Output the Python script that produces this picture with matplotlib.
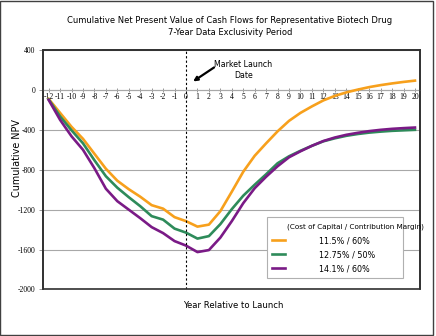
import matplotlib
matplotlib.use("Agg")
import matplotlib.pyplot as plt
from matplotlib.patches import Rectangle

# data
years = list(range(-12, 21))
npv_115_60 = [-90, -230, -370, -490, -640, -790, -910, -995, -1070, -1155, -1190, -1275,
              -1315, -1370, -1350, -1215, -1020, -820, -660, -535, -415, -310, -230,
              -165, -105, -60, -25, 3, 28, 48, 65, 80, 93]
npv_1275_50 = [-95, -265, -405, -535, -705, -865, -980, -1075, -1165, -1265, -1300, -1390,
               -1430, -1490, -1465, -1345, -1195, -1060, -950, -845, -735, -665, -610,
               -560, -515, -485, -460, -442, -428, -418, -410, -405, -400]
npv_141_60 = [-100, -300, -465, -600, -785, -990, -1115, -1200, -1285, -1375, -1435, -1515,
              -1560, -1625, -1605, -1480, -1315, -1135, -985, -870, -765, -675, -615,
              -560, -512, -477, -450, -430, -413, -400, -390, -383, -377]
series_labels = ["11.5% / 60%", "12.75% / 50%", "14.1% / 60%"]
series_colors = ["#F7A01C", "#2E8B5A", "#7A1A86"]
y_ticks = [400, 0, -400, -800, -1200, -1600, -2000]
legend_title = "(Cost of Capital / Contribution Margin)"

sans = "DejaVu Sans"
serif = "Liberation Serif"

fig = plt.figure(figsize=(4.36, 3.36), dpi=100)
ax = fig.add_axes([0.0979, 0.1384, 0.8654, 0.7128])

for vals, lab, col in zip([npv_115_60, npv_1275_50, npv_141_60], series_labels, series_colors):
    ax.plot(years, vals, color=col, lw=1.9, label=lab, zorder=3)

ax.set_xlim(-12.52, 20.44)
ax.set_ylim(-2000, 400)

# horizontal grid
for yv in y_ticks:
    ax.axhline(yv, color="#A8A8A8", lw=0.8, zorder=1)

# x axis sits on the zero line
ax.spines["bottom"].set_position(("data", 0))
ax.spines["bottom"].set_color("#A8A8A8")
ax.spines["bottom"].set_linewidth(0.8)
for s in ["top", "left", "right"]:
    ax.spines[s].set_color("#303030")
    ax.spines[s].set_linewidth(1.2)
ax.add_patch(Rectangle((0, 0), 1, 1, transform=ax.transAxes, fill=False,
                       edgecolor="#303030", lw=1.2, clip_on=False, zorder=5))

ax.set_xticks(years)
ax.set_xticklabels([str(y) for y in years], fontfamily=serif, fontsize=5.5)
ax.tick_params(axis="x", direction="inout", length=3, width=0.6, color="#888888", pad=1)
ax.set_yticks(y_ticks)
ax.set_yticklabels([str(y) for y in y_ticks], fontfamily=serif, fontsize=5.5)
ax.tick_params(axis="y", direction="out", length=3, width=0.6, color="#888888", pad=2)

# launch marker
ax.axvline(0, color="black", lw=0.8, ls=(0, (2, 2)), zorder=4)
ax.annotate("", xy=(0.62, 85), xytext=(2.45, 225),
            arrowprops=dict(arrowstyle="-|>", color="black", lw=1.6,
                            mutation_scale=6, shrinkA=0, shrinkB=0))
ax.text(5.0, 200, "Market Launch\nDate", ha="center", va="center",
        fontfamily=sans, fontsize=5.7, linespacing=1.35)

# legend: blank title row, real title drawn as text so it can spill to the right like Excel
leg = ax.legend(loc="lower left", bbox_to_anchor=(0.595, 0.048, 0.361, 0.25), mode="expand",
                title=" ", prop={"family": sans, "size": 5.8},
                handlelength=1.6, handletextpad=4.2, labelspacing=0.62,
                borderpad=0.6, borderaxespad=0, fancybox=False, framealpha=1,
                edgecolor="#B0B0B0")
leg.get_title().set_fontsize(5.8)
leg.get_frame().set_linewidth(0.8)
leg.set_zorder(6)
ax.text(0.6475, 0.263, legend_title, transform=ax.transAxes, ha="left", va="center",
        fontfamily=sans, fontsize=5.2, zorder=7)

fig.text(0.527, 0.921, "Cumulative Net Present Value of Cash Flows for Representative Biotech Drug\n"
         "7-Year Data Exclusivity Period", ha="center", va="center",
         fontfamily=sans, fontsize=6.0, linespacing=1.35)
fig.text(0.534, 0.09, "Year Relative to Launch", ha="center", va="center",
         fontfamily=sans, fontsize=6.1)
fig.text(0.039, 0.53, "Cumulative NPV", ha="center", va="center", rotation=90,
         fontfamily=sans, fontsize=6.9)

# outer border
fig.patches.append(Rectangle((0.001, 0.004), 0.991, 0.994, transform=fig.transFigure,
                             fill=False, edgecolor="#404040", lw=1.0))

fig.savefig("out.png", dpi=100)
